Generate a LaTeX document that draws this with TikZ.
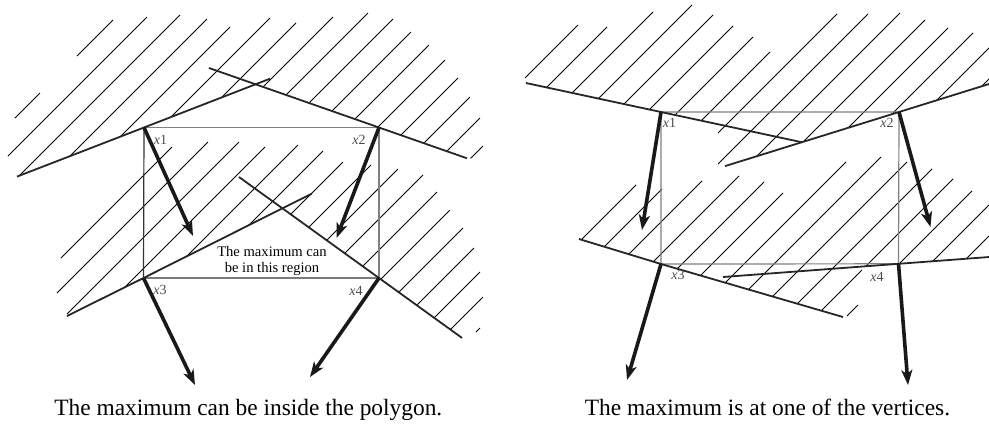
\documentclass[tikz,border=0pt]{standalone}
\usepackage{fontspec}
\setmainfont{Liberation Serif}
\usetikzlibrary{arrows.meta}

\begin{document}
\begin{tikzpicture}[x=0.5pt, y=-0.5pt,
    cline/.style={line width=0.9pt, black!85},
    hline/.style={line width=0.5pt, black},
    pbox/.style={line width=0.6pt, black!50},
    pboxd/.style={line width=0.6pt, black!80},
    arw/.style={line width=1.8pt, black!90,
      -{Stealth[length=7.5pt, width=5.5pt, inset=2pt]}},
    vlab/.style={font=\fontsize{7}{8}\selectfont, text=black!70, inner sep=0pt},
    note/.style={font=\fontsize{7.3}{8}\selectfont, inner sep=0pt, anchor=base},
    capt/.style={font=\fontsize{11.7}{13}\selectfont, inner sep=0pt, anchor=base}]
  \useasboundingbox (0,0) rectangle (989,425);

  % left polygon
  \coordinate (l1) at (144,127.5);
  \coordinate (l2) at (379,127.5);
  \coordinate (l3) at (143.5,278);
  \coordinate (l4) at (379,278);
  % hatching above the two upper constraints
  \begin{scope}
    \clip (0,215) -- (17,176.6) -- (255.6,84.3) -- (467,158.3) -- (495,158.3)
      -- (495,0) -- (0,0) -- cycle;
    \foreach \c/\a/\b in {133/15/40, 133/77/113, 164/8/147, 195/18/180,
        226/0/207, 257/0/230, 288/0/270, 319/0/296, 350/0/333, 381/0/368,
        412/0/393, 443/0/411, 474/0/429, 505/0/445, 536/0/458, 567/0/470,
        598/0/480, 629/0/483}
      \draw[hline] (\a,{\c-\a}) -- (\b,{\c-\b});
  \end{scope}
  % hatching above the lower constraints
  \begin{scope}
    \clip (0,333) -- (67,316) -- (282.4,208.3) -- (462,337.9) -- (495,337.9)
      -- (495,100) -- (0,100) -- cycle;
    \foreach \c/\a/\b in {319/61/172, 350/57/208, 381/67/239, 412/0/265,
        443/0/298, 474/0/323, 505/0/343, 536/0/371, 567/0/398, 598/0/423,
        629/0/437, 660/0/450, 691/0/463, 722/0/474, 752/0/480, 780/0/483,
        808/476/480}
      \draw[hline] (\a,{\c-\a}) -- (\b,{\c-\b});
  \end{scope}
  \draw[pbox] (l1) -- (l2) -- (l4);
  \draw[pboxd] (l1) -- (l3) -- (l4);
  \draw[cline] (17,176.6) -- (l1) -- (270,78.7);
  \draw[cline] (209,68) -- (l2) -- (467,158.3);
  \draw[cline] (239,177) -- (l4) -- (462,337.9);
  \draw[cline] (67,316) -- (l3) -- (312,193.5);
  % gradient arrows
  \coordinate (l1t) at (193,236);
  \coordinate (l2t) at (336.5,238);
  \coordinate (l3t) at (195,385);
  \coordinate (l4t) at (310,377);
  \draw[arw] (l1) -- (l1t);
  \draw[arw] (l2) -- (l2t);
  \draw[arw] (l3) -- (l3t);
  \draw[arw] (l4) -- (l4t);
  \node[vlab] (lx1) at (160.5,139.5) {\textit{x}1};
  \node[vlab] (lx2) at (359,139.5) {\textit{x}2};
  \node[vlab] (lx3) at (160,289.5) {\textit{x}3};
  \node[vlab] (lx4) at (356,291) {\textit{x}4};
  \node[note] (reg1) at (272,256.7) {The maximum can};
  \node[note] (reg2) at (272,272) {be in this region};
  \node[capt] (lcap) at (248.3,415) {The maximum can be inside the polygon.};

  % right polygon
  \coordinate (r1) at (661,112);
  \coordinate (r2) at (899,112);
  \coordinate (r3) at (661,264);
  \coordinate (r4) at (898.5,263.8);
  % hatching above the two upper constraints
  \begin{scope}
    \clip (521,81.9) -- (718,124.2) -- (718,168.3) -- (989,84) -- (995,82)
      -- (995,0) -- (521,0) -- cycle;
    \foreach \c/\a/\b in {603/525/578, 634/500/607, 665/500/653, 697/500/692,
        728/500/713, 759/500/733, 790/500/753, 822/500/770, 851/500/837,
        882/500/868, 913/500/900, 945/500/925, 976/500/948, 1006/500/973,
        1037/500/990, 1068/500/992}
      \draw[hline] (\a,{\c-\a}) -- (\b,{\c-\b});
  \end{scope}
  % hatching above the lower constraints
  \begin{scope}
    \clip (575,237.8) -- (843,317) -- (862,317) -- (862,266.6) -- (995,256.6)
      -- (995,140) -- (575,140) -- cycle;
    \foreach \c/\a/\b in {821/560/636, 851/560/662, 883/560/702, 915/560/739,
        946/560/764, 976/560/783, 1008/560/846, 1038/560/881, 1069/560/907,
        1101/560/932, 1132/560/953, 1163/847/858, 1163/863/972, 1194/863/992,
        1225/863/992}
      \draw[hline] (\a,{\c-\a}) -- (\b,{\c-\b});
  \end{scope}
  \draw[pbox] (r1) -- (r2) -- (r4) -- (r3) -- cycle;
  \draw[cline] (526,83) -- (r1) -- (801.8,142.2);
  \draw[cline] (725,166.1) -- (r2) -- (989,84);
  \draw[cline] (579,239) -- (r3) -- (843,317);
  \draw[cline] (723,277) -- (r4) -- (989,257);
  % gradient arrows
  \coordinate (r1t) at (642,230);
  \coordinate (r2t) at (930.5,227);
  \coordinate (r3t) at (627,380);
  \coordinate (r4t) at (908,385);
  \draw[arw] (r1) -- (r1t);
  \draw[arw] (r2) -- (r2t);
  \draw[arw] (r3) -- (r3t);
  \draw[arw] (r4) -- (r4t);
  \node[vlab] (rx1) at (669.5,123) {\textit{x}1};
  \node[vlab] (rx2) at (887,123) {\textit{x}2};
  \node[vlab] (rx3) at (678,275) {\textit{x}3};
  \node[vlab] (rx4) at (877,277) {\textit{x}4};
  \node[capt] (rcap) at (767.5,415) {The maximum is at one of the vertices.};
\end{tikzpicture}
\end{document}
